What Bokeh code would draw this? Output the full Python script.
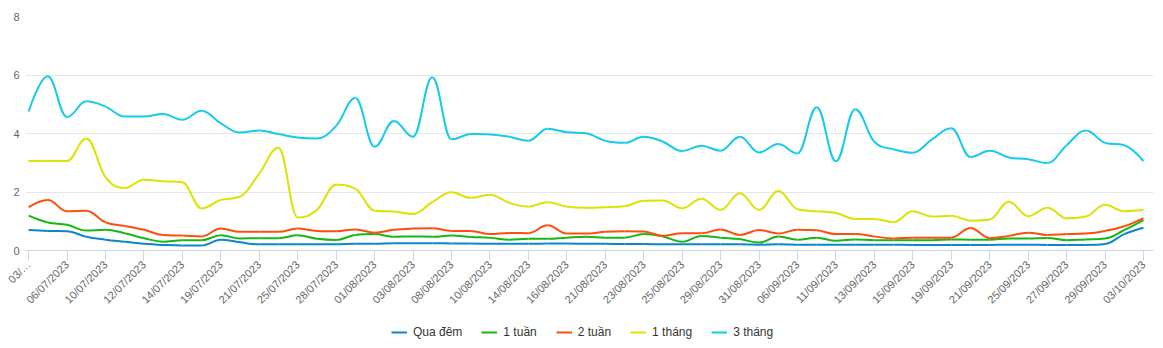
import math
from bokeh.plotting import figure
from bokeh.layouts import column
from bokeh.models import Range1d, FixedTicker, Legend, LegendItem, ColumnDataSource
from bokeh.embed import file_html
from bokeh.resources import INLINE

tick_labels = ["03/…", "06/07/2023", "10/07/2023", "12/07/2023", "14/07/2023", "19/07/2023",
               "21/07/2023", "25/07/2023", "28/07/2023", "01/08/2023", "03/08/2023", "08/08/2023",
               "10/08/2023", "14/08/2023", "16/08/2023", "21/08/2023", "23/08/2023", "25/08/2023",
               "29/08/2023", "31/08/2023", "06/09/2023", "11/09/2023", "13/09/2023", "15/09/2023",
               "19/09/2023", "21/09/2023", "25/09/2023", "27/09/2023", "29/09/2023", "03/10/2023"]

qua_dem = [0.70, 0.67, 0.66, 0.47, 0.37, 0.30, 0.23, 0.19, 0.17, 0.17,
           0.37, 0.28, 0.21, 0.21, 0.21, 0.21, 0.21, 0.23, 0.23, 0.25,
           0.25, 0.25, 0.24, 0.24, 0.23, 0.23, 0.23, 0.24, 0.24, 0.23,
           0.23, 0.22, 0.22, 0.21, 0.21, 0.21, 0.21, 0.21, 0.20, 0.21,
           0.20, 0.20, 0.20, 0.20, 0.20, 0.20, 0.19, 0.19, 0.19, 0.19,
           0.19, 0.20, 0.20, 0.19, 0.19, 0.19, 0.22, 0.56, 0.78]
tuan1 = [1.19, 0.96, 0.88, 0.68, 0.71, 0.59, 0.42, 0.30, 0.35, 0.35,
         0.52, 0.41, 0.42, 0.42, 0.52, 0.40, 0.36, 0.53, 0.56, 0.47,
         0.48, 0.47, 0.51, 0.46, 0.44, 0.37, 0.40, 0.40, 0.44, 0.47,
         0.44, 0.44, 0.56, 0.48, 0.30, 0.50, 0.44, 0.39, 0.27, 0.48,
         0.37, 0.44, 0.33, 0.38, 0.35, 0.35, 0.35, 0.35, 0.38, 0.37,
         0.37, 0.41, 0.41, 0.43, 0.35, 0.38, 0.41, 0.70, 1.04]
tuan2 = [1.48, 1.73, 1.34, 1.36, 0.96, 0.84, 0.71, 0.53, 0.51, 0.48,
         0.75, 0.64, 0.64, 0.64, 0.75, 0.67, 0.66, 0.72, 0.61, 0.71,
         0.75, 0.76, 0.67, 0.67, 0.56, 0.60, 0.59, 0.86, 0.58, 0.58,
         0.64, 0.66, 0.65, 0.50, 0.59, 0.59, 0.72, 0.53, 0.70, 0.58,
         0.71, 0.69, 0.56, 0.56, 0.48, 0.41, 0.44, 0.44, 0.44, 0.77,
         0.42, 0.50, 0.61, 0.53, 0.56, 0.58, 0.67, 0.83, 1.11]
thang1 = [3.06, 3.06, 3.06, 3.83, 2.51, 2.14, 2.42, 2.37, 2.33, 1.44,
          1.73, 1.84, 2.63, 3.51, 1.13, 1.39, 2.25, 2.11, 1.36, 1.33,
          1.25, 1.65, 1.99, 1.80, 1.91, 1.63, 1.50, 1.65, 1.50, 1.46,
          1.48, 1.51, 1.70, 1.71, 1.44, 1.77, 1.39, 1.96, 1.39, 2.03,
          1.41, 1.34, 1.28, 1.08, 1.08, 0.97, 1.34, 1.16, 1.19, 1.02,
          1.06, 1.67, 1.17, 1.46, 1.10, 1.16, 1.56, 1.34, 1.39]
thang3 = [4.75, 5.96, 4.56, 5.10, 4.92, 4.58, 4.58, 4.67, 4.47, 4.78,
          4.35, 4.03, 4.10, 3.98, 3.86, 3.83, 4.26, 5.21, 3.55, 4.43,
          3.89, 5.92, 3.80, 3.98, 3.97, 3.89, 3.75, 4.16, 4.04, 4.01,
          3.75, 3.68, 3.89, 3.72, 3.40, 3.58, 3.41, 3.89, 3.35, 3.64,
          3.32, 4.90, 3.05, 4.83, 3.72, 3.46, 3.34, 3.80, 4.18, 3.20,
          3.41, 3.18, 3.12, 2.99, 3.60, 4.10, 3.68, 3.60, 3.06]

series_names = ["Qua đêm", "1 tuần", "2 tuần", "1 tháng", "3 tháng"]
series_values = [qua_dem, tuan1, tuan2, thang1, thang3]
series_colors = ["#0d86c9", "#14b814", "#ff4d0a", "#dde300", "#14cbeb"]

FONT = "Liberation Sans"


def spline_segments(ys):
    n = len(ys)
    xs = list(range(n))
    sm = 1.5
    den = sm + 1
    lc = [(xs[i], ys[i]) for i in range(n)]
    rc = [(xs[i], ys[i]) for i in range(n)]
    for i in range(1, n - 1):
        x, y = xs[i], ys[i]
        px, py = xs[i - 1], ys[i - 1]
        nx, ny = xs[i + 1], ys[i + 1]
        lcx = (sm * x + px) / den
        lcy = (sm * y + py) / den
        rcx = (sm * x + nx) / den
        rcy = (sm * y + ny) / den
        if rcx != lcx:
            corr = ((rcy - lcy) * (rcx - x)) / (rcx - lcx) + y - rcy
            lcy += corr
            rcy += corr
            if lcy > py and lcy > y:
                lcy = max(py, y)
                rcy = 2 * y - lcy
            elif lcy < py and lcy < y:
                lcy = min(py, y)
                rcy = 2 * y - lcy
            if rcy > ny and rcy > y:
                rcy = max(ny, y)
                lcy = 2 * y - rcy
            elif rcy < ny and rcy < y:
                rcy = min(ny, y)
                lcy = 2 * y - rcy
        lc[i] = (lcx, lcy)
        rc[i] = (rcx, rcy)
    d = dict(x0=[], y0=[], x1=[], y1=[], cx0=[], cy0=[], cx1=[], cy1=[])
    for i in range(1, n):
        d["x0"].append(xs[i - 1]); d["y0"].append(ys[i - 1])
        d["x1"].append(xs[i]); d["y1"].append(ys[i])
        d["cx0"].append(rc[i - 1][0]); d["cy0"].append(rc[i - 1][1])
        d["cx1"].append(lc[i][0]); d["cy1"].append(lc[i][1])
    return d


p = figure(width=1163, height=312, x_range=Range1d(-0.16, 58.52), y_range=Range1d(0, 8),
           output_backend="svg", toolbar_location=None,
           min_border_left=25, min_border_right=10, min_border_top=16, min_border_bottom=62)
p.outline_line_color = None
p.background_fill_color = "white"
p.border_fill_color = "white"

p.xgrid.visible = False
p.ygrid.grid_line_color = "#e6e6e6"
p.ygrid.grid_line_width = 1

p.yaxis.ticker = FixedTicker(ticks=[0, 2, 4, 6, 8])
p.yaxis.axis_line_color = None
p.yaxis.major_tick_line_color = None
p.yaxis.major_tick_out = 0
p.yaxis.major_tick_in = 0
p.yaxis.minor_tick_line_color = None
p.yaxis.major_label_text_font = FONT
p.yaxis.major_label_text_font_size = "11px"
p.yaxis.major_label_text_color = "#666666"
p.yaxis.major_label_standoff = 6

p.xaxis.ticker = FixedTicker(ticks=list(range(0, 59, 2)))
p.xaxis.major_label_overrides = {i * 2: lab for i, lab in enumerate(tick_labels)}
p.xaxis.major_label_orientation = math.pi / 4
p.xaxis.axis_line_color = "#ccd6eb"
p.xaxis.major_tick_line_color = "#ccd6eb"
p.xaxis.major_tick_in = 0
p.xaxis.major_tick_out = 10
p.xaxis.minor_tick_line_color = None
p.xaxis.major_label_text_font = FONT
p.xaxis.major_label_text_font_size = "11px"
p.xaxis.major_label_text_color = "#666666"
p.xaxis.major_label_standoff = 2

for name, vals, col in zip(series_names, series_values, series_colors):
    src = ColumnDataSource(spline_segments(vals))
    p.bezier(x0="x0", y0="y0", x1="x1", y1="y1", cx0="cx0", cy0="cy0", cx1="cx1", cy1="cy1",
             source=src, line_color=col, line_width=2)

# legend strip below the chart; its renderers hold the same series, out of view
p2 = figure(width=1163, height=36, x_range=Range1d(0, 58), y_range=Range1d(100, 101),
            output_backend="svg", toolbar_location=None,
            min_border_left=0, min_border_right=0, min_border_top=0, min_border_bottom=0)
p2.axis.visible = False
p2.grid.visible = False
p2.outline_line_color = None
p2.border_fill_color = "white"
items = []
for name, vals, col in zip(series_names, series_values, series_colors):
    r = p2.line(x=list(range(len(vals))), y=vals, line_color=col, line_width=2)
    items.append(LegendItem(label=name, renderers=[r]))
legend = Legend(items=items, orientation="horizontal", location=(366, 9),
                label_text_font=FONT, label_text_font_size="12px", label_text_color="#333333",
                glyph_width=16, glyph_height=12, label_height=12, label_standoff=6, spacing=19,
                padding=4, margin=0, border_line_color=None, background_fill_alpha=0)
p2.add_layout(legend)

open("out.html", "w").write(file_html(column(p, p2, spacing=0), INLINE))
